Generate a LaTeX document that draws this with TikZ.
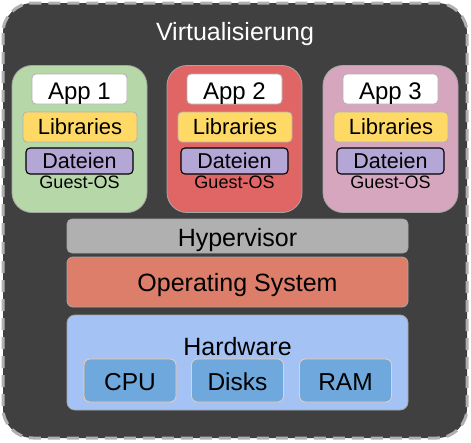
\documentclass[tikz,border=0pt]{standalone}
\usepackage{fontspec}
\setmainfont{Liberation Sans}
\begin{document}
\begin{tikzpicture}[x=1pt,y=-1pt,
  box/.style={draw=#1, line width=0.8pt, inner sep=0pt, anchor=center, text depth=0pt},
  appbox/.style={box=gray!70, rounded corners=20pt, minimum width=135pt, minimum height=147pt},
  appname/.style={box=gray!60, fill=white, rounded corners=4pt, minimum width=95pt, minimum height=30pt, text height=20pt, font=\fontsize{24}{24}\selectfont},
  libbox/.style={box=gray!60, fill=libyellow, rounded corners=4pt, minimum width=114pt, minimum height=30pt, text height=14pt, font=\fontsize{22}{22}\selectfont},
  filebox/.style={draw=black, line width=1.1pt, fill=filepurple, rounded corners=4pt, minimum width=107pt, minimum height=26pt, inner sep=0pt, text height=14pt, text depth=0pt, font=\fontsize{21.5}{21.5}\selectfont},
  guestlbl/.style={inner sep=0pt, anchor=base, font=\fontsize{18}{18}\selectfont},
  layer/.style={box=gray!70, minimum width=341pt},
  hwpart/.style={box=orange!40, fill=hwpart, rounded corners=6pt, minimum width=92pt, minimum height=43pt, text height=19pt, font=\fontsize{24.5}{24.5}\selectfont}
]
\definecolor{outerfill}{HTML}{404040}
\definecolor{libyellow}{HTML}{FFD966}
\definecolor{filepurple}{HTML}{B4A7D6}
\definecolor{appgreen}{HTML}{B6D7A8}
\definecolor{appred}{HTML}{E06666}
\definecolor{apppink}{HTML}{D5A6BD}
\definecolor{hypgray}{HTML}{B0B0B0}
\definecolor{osred}{HTML}{DD7E6B}
\definecolor{hwblue}{HTML}{A4C2F4}
\definecolor{hwpart}{HTML}{6FA8DC}
\definecolor{dashgray}{HTML}{B0B0B0}
\useasboundingbox (0,0) rectangle (471,442);
\draw[fill=outerfill, draw=dashgray, line width=3pt, dash pattern=on 12pt off 7pt, rounded corners=30pt] (3,3) rectangle (467,438);
\node[text=white, inner sep=0pt, anchor=base, font=\fontsize{25}{25}\selectfont] (title) at (235,40) {Virtualisierung};

\node[appbox, fill=appgreen] (app1) at (79.5,139) {};
\node[appbox, fill=appred] (app2) at (234.5,139) {};
\node[appbox, fill=apppink] (app3) at (390.5,139) {};

\foreach \i/\dx in {1/0, 2/155, 3/311}{
  \node[appname] (name\i) at (79.5+\dx,89) {App \i};
  \node[libbox] (lib\i) at (80+\dx,127) {Libraries};
  \node[filebox] (file\i) at (79.5+\dx,161) {Dateien};
  \node[guestlbl] (guest\i) at (79.5+\dx,188) {Guest-OS};
}

\node[layer, fill=hypgray, rounded corners=5pt, minimum height=34pt, text height=20pt, font=\fontsize{25}{25}\selectfont] (hyp) at (237.5,236) {Hypervisor};
\node[layer, fill=osred, rounded corners=6pt, minimum height=50pt, text height=19.4pt, font=\fontsize{25}{25}\selectfont] (os) at (237.5,282) {Operating System};
\node[layer, fill=hwblue, rounded corners=8pt, minimum height=95pt] (hw) at (237.5,362.5) {};
\node[inner sep=0pt, anchor=base, font=\fontsize{25}{25}\selectfont] (hwlbl) at (237.5,355) {Hardware};
\node[hwpart] (cpu) at (130,380.5) {CPU};
\node[hwpart] (disks) at (237.5,380.5) {Disks};
\node[hwpart] (ram) at (345.5,380.5) {RAM};
\end{tikzpicture}
\end{document}
